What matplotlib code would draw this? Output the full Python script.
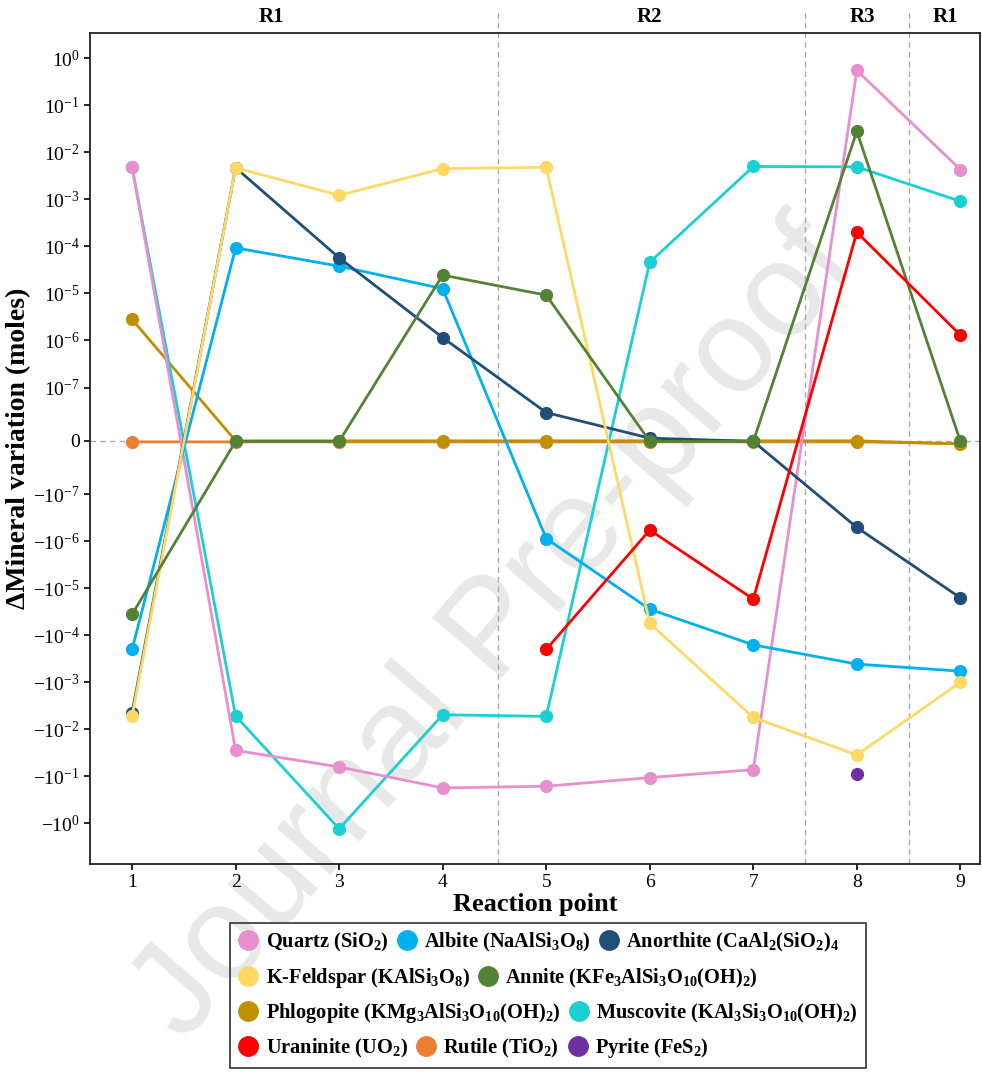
import numpy as np
import matplotlib.pyplot as plt
from matplotlib.lines import Line2D
from matplotlib.patches import Rectangle
from matplotlib.ticker import NullLocator

plt.rcParams['font.family'] = ['Liberation Serif', 'DejaVu Serif']
plt.rcParams['mathtext.fontset'] = 'custom'
plt.rcParams['mathtext.rm'] = 'Liberation Serif'
plt.rcParams['mathtext.it'] = 'Liberation Serif:italic'
plt.rcParams['mathtext.bf'] = 'Liberation Serif:bold'

nan = np.nan
points = [1, 2, 3, 4, 5, 6, 7, 8, 9]

# mineral variations (moles)
quartz     = [4.9e-3, -2.8e-2, -6.3e-2, -1.76e-1, -1.62e-1, -1.06e-1, -7.2e-2, 5.5e-1, 4.3e-3]
albite     = [-2.0e-4, 9.3e-5, 3.8e-5, 1.26e-5, -8.8e-7, -2.8e-5, -1.6e-4, -4.1e-4, -5.8e-4]
anorthite  = [-4.4e-3, 4.7e-3, 5.7e-5, 1.15e-6, 5.3e-8, 5e-9, -1e-9, -5.1e-7, -1.6e-5]
kfeldspar  = [-5.2e-3, 4.7e-3, 1.22e-3, 4.5e-3, 4.8e-3, -5.6e-5, -5.6e-3, -3.5e-2, -1.0e-3]
annite     = [-3.6e-5, -1e-9, -1e-9, 2.45e-5, 9.2e-6, -1e-9, -1e-9, 2.8e-2, -1e-9]
phlogopite = [2.8e-6, 0, 0, 0, 0, 0, 0, 0, -6e-9]
muscovite  = [4.8e-3, -5.2e-3, -1.3, -4.9e-3, -5.3e-3, 4.6e-5, 5.0e-3, 4.9e-3, 9.1e-4]
uraninite  = [nan, nan, nan, nan, -2.0e-4, -5.8e-7, -1.7e-5, 2.0e-4, 1.3e-6]
rutile     = [-2e-9, -2e-9, -2e-9, -2e-9, -2e-9, -2e-9, -2e-9, -2e-9, -5e-9]
pyrite     = [nan, nan, nan, nan, nan, nan, nan, -9.1e-2, nan]

names = ['Quartz (SiO$_\\mathbf{2}$)', 'Albite (NaAlSi$_\\mathbf{3}$O$_\\mathbf{8}$)',
         'Anorthite (CaAl$_\\mathbf{2}$(SiO$_\\mathbf{2}$)$_\\mathbf{4}$',
         'K-Feldspar (KAlSi$_\\mathbf{3}$O$_\\mathbf{8}$)',
         'Annite (KFe$_\\mathbf{3}$AlSi$_\\mathbf{3}$O$_\\mathbf{10}$(OH)$_\\mathbf{2}$)',
         'Phlogopite (KMg$_\\mathbf{3}$AlSi$_\\mathbf{3}$O$_\\mathbf{10}$(OH)$_\\mathbf{2}$)',
         'Muscovite (KAl$_\\mathbf{3}$Si$_\\mathbf{3}$O$_\\mathbf{10}$(OH)$_\\mathbf{2}$)',
         'Uraninite (UO$_\\mathbf{2}$)', 'Rutile (TiO$_\\mathbf{2}$)', 'Pyrite (FeS$_\\mathbf{2}$)']
colors = ['#E88FCD', '#00B0F0', '#1F4E79', '#FFD966', '#548235',
          '#BF9000', '#1BD0D2', '#FF0000', '#ED7D31', '#7030A0']
series = [quartz, albite, anorthite, kfeldspar, annite,
          phlogopite, muscovite, uraninite, rutile, pyrite]
draw_order = [8, 5, 6, 0, 1, 2, 3, 4, 7, 9]
legend_rows = [[0, 1, 2], [3, 4], [5, 6], [7, 8, 9]]

region_labels = ['R1', 'R2', 'R3', 'R1']
region_x = [2.35, 6.0, 8.05, 8.86]
region_bounds = [4.53, 7.5, 8.5]

y_exps = [0, -1, -2, -3, -4, -5, -6, -7]

fig = plt.figure(figsize=(9.82, 10.72), dpi=100)
ax = fig.add_axes([0.0917, 0.194, 0.9063, 0.775])
ax.set_facecolor('none')

ax.axhline(0, color='#aaaaaa', ls=(0, (4, 3)), lw=1.0, zorder=1)
for xb in region_bounds:
    ax.axvline(xb, ymin=0, ymax=1.026, color='#aaaaaa', ls=(0, (4, 3)), lw=1.0,
               clip_on=False, zorder=1)

for k, i in enumerate(draw_order):
    ax.plot(points, series[i], color=colors[i], lw=2.0, marker='o', ms=8.5,
            zorder=2 + k * 0.01)

ax.set_yscale('symlog', linthresh=1e-7, linscale=1.02)
ticks = [-(10.0 ** e) for e in y_exps] + [0] + [10.0 ** e for e in y_exps[::-1]]
labels = ['$-10^{%d}$' % e for e in y_exps] + ['0'] + ['$10^{%d}$' % e for e in y_exps[::-1]]
ax.set_yticks(ticks)
ax.set_yticklabels(labels)
ax.yaxis.set_minor_locator(NullLocator())
ax.set_ylim(-7.3, 3.4)
ax.set_xlim(0.594, 9.19)
ax.set_xticks(points)

ax.tick_params(axis='both', direction='out', length=4, width=1.2, labelsize=14, colors='black')
for sp in ax.spines.values():
    sp.set_linewidth(1.3)
    sp.set_color('#222222')

ax.set_xlabel('Reaction point', fontsize=19, fontweight='bold', labelpad=1)
ax.set_ylabel('ΔMineral variation (moles)', fontsize=20, fontweight='bold', labelpad=1)

for lab, xr in zip(region_labels, region_x):
    ax.text(xr, 1.019, lab, transform=ax.get_xaxis_transform(), ha='center', va='center',
            fontsize=15, fontweight='bold')

# legend laid out in flowing rows inside one box
fig.add_artist(Rectangle((0.2342, 0.0037), 0.6477, 0.1353, transform=fig.transFigure,
                         fill=False, edgecolor='#333333', lw=1.2))
row_top = 0.1315
for row in legend_rows:
    handles = [Line2D([], [], ls='none', marker='o', ms=14, color=colors[i]) for i in row]
    fig.legend(handles, [names[i] for i in row], loc='upper left',
               bbox_to_anchor=(0.2425, row_top), ncol=len(row), frameon=False,
               handlelength=1.0, handletextpad=0.35, columnspacing=0.4, borderpad=0,
               borderaxespad=0, prop={'family': 'Liberation Serif', 'weight': 'bold', 'size': 14.7})
    row_top -= 0.0327

fig.text(0.505, 0.41, 'Journal Pre-proof', rotation=49, ha='center', va='center',
         fontsize=96, color='#e8e8e8', family='Liberation Sans', zorder=-1)

fig.savefig('out.png', dpi=100)
